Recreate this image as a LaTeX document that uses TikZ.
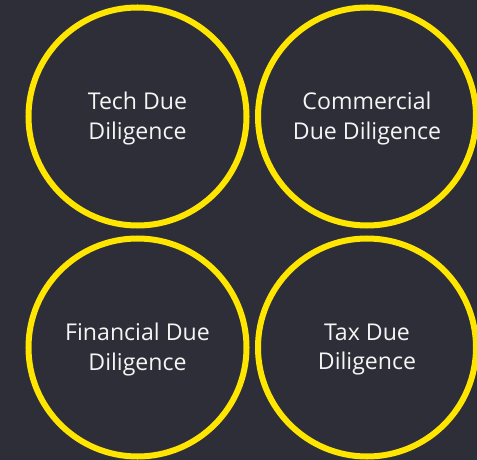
\documentclass[tikz,border=0pt]{standalone}
\usepackage{fontspec}
\setmainfont{Open Sans}
\begin{document}
\definecolor{boardbg}{HTML}{2E2E38}
\definecolor{eyyellow}{HTML}{FFE600}
\definecolor{labelwhite}{HTML}{F5F5F5}
\begin{tikzpicture}[x=1bp,y=-1bp,
  ring/.style={circle, draw=eyyellow, line width=6bp, minimum size=218bp,
    inner sep=0pt},
  caption/.style={align=center, text=labelwhite, inner sep=0pt,
    font=\fontsize{23.2}{30}\selectfont}]
  \fill[boardbg] (0,0) rectangle (477,460);
  \useasboundingbox (0,0) rectangle (477,460);
  \clip (0,0) rectangle (477,460);
  % four rings, two per row
  \node[ring] (tech) at (137.5,116.5) {};
  \node[ring] (comm) at (367,116.5) {};
  \node[ring] (fin)  at (137.5,347.5) {};
  \node[ring] (tax)  at (367,347.5) {};
  % captions, set slightly below each ring's centre
  \node[caption] (techtxt) at ([yshift=-2bp]tech.center) {Tech Due\\Diligence};
  \node[caption] (commtxt) at ([yshift=-2bp]comm.center) {Commercial\\Due Diligence};
  \node[caption] (fintxt)  at ([yshift=-2bp]fin.center)  {Financial Due\\Diligence};
  \node[caption] (taxtxt)  at ([yshift=-2bp]tax.center)  {Tax Due\\Diligence};
\end{tikzpicture}
\end{document}
